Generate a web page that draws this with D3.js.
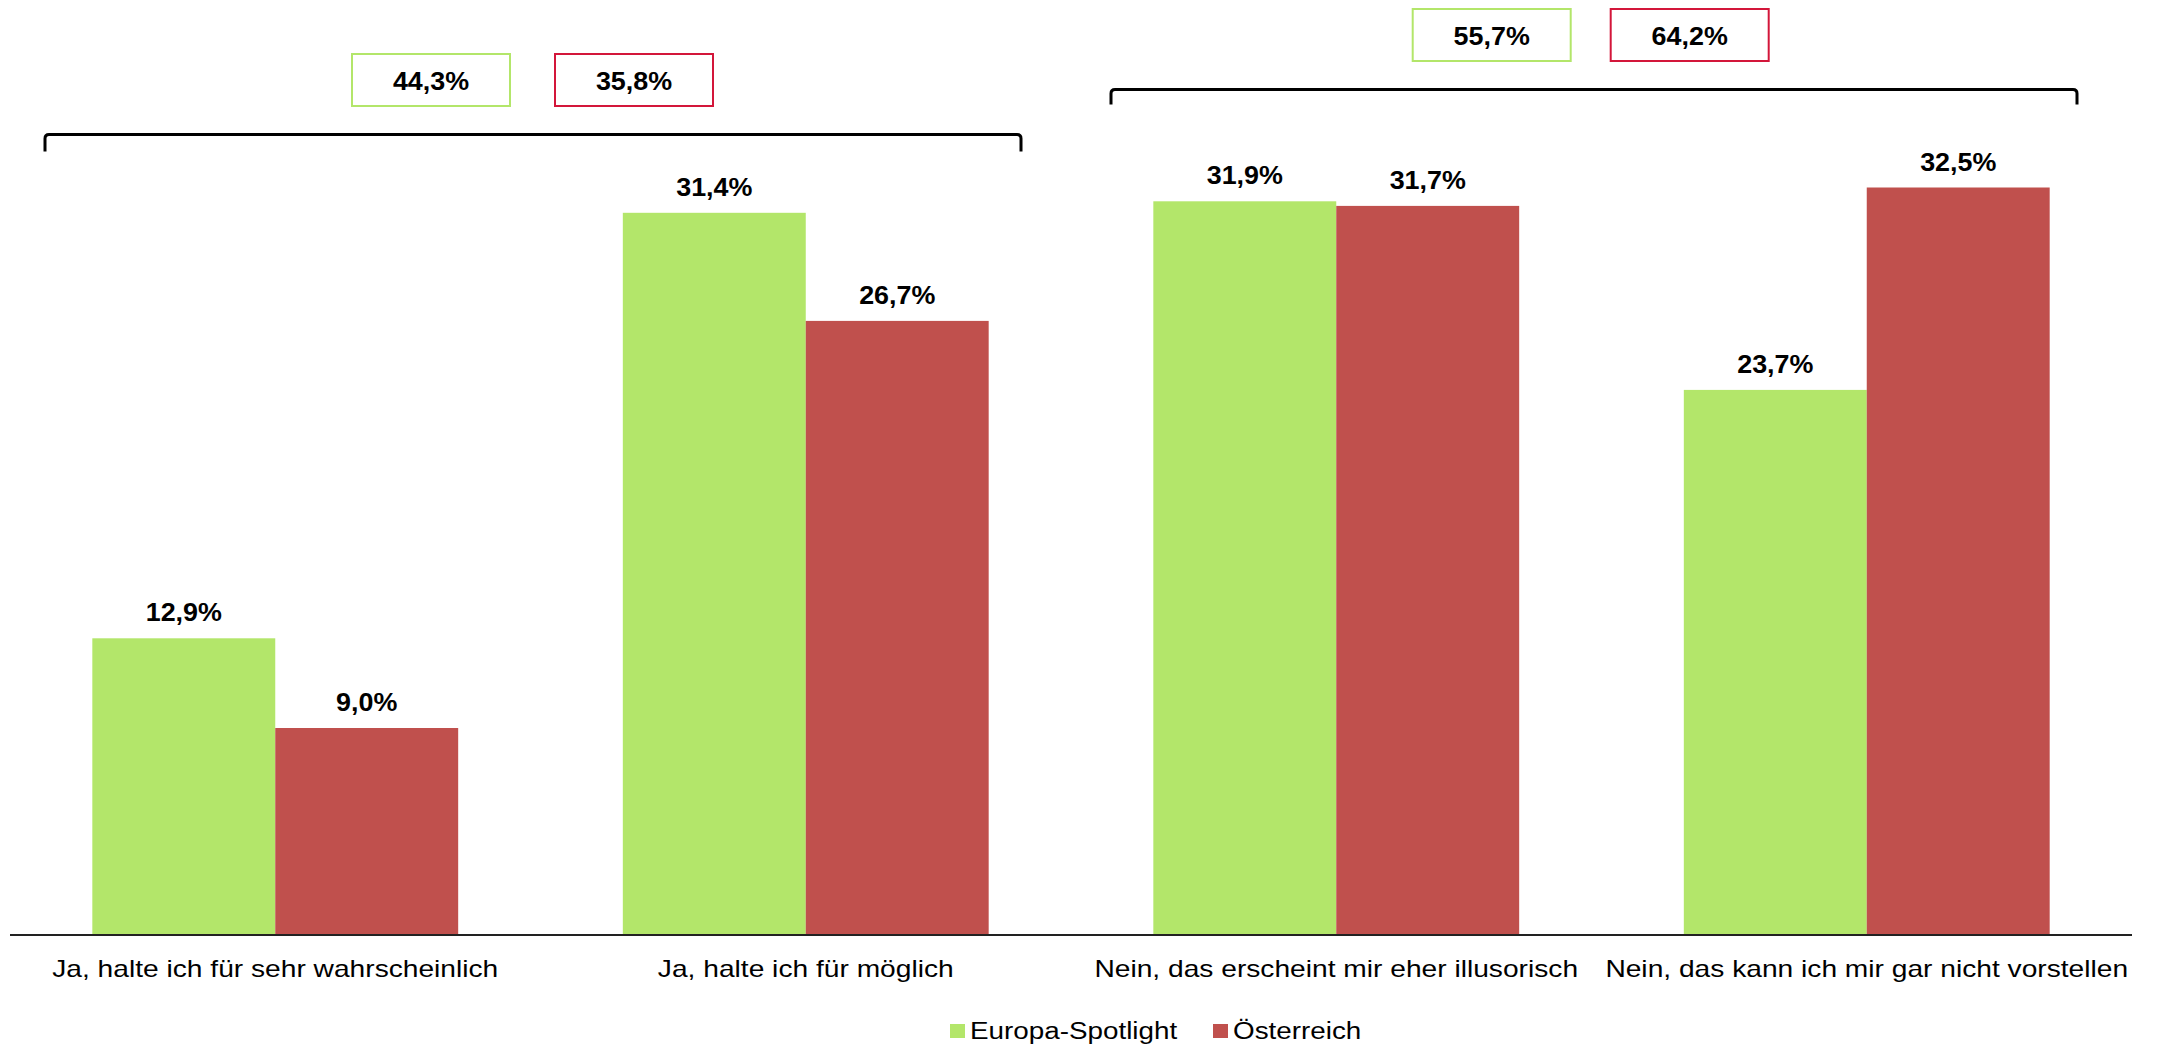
<!DOCTYPE html>
<html>
<head>
<meta charset="utf-8">
<script src="https://cdn.jsdelivr.net/npm/d3@7/dist/d3.min.js"></script>
<style>
  html, body { margin: 0; padding: 0; background: #fff; }
  svg { display: block; }
  text { font-family: "Liberation Sans", Arial, sans-serif; fill: #000; }
</style>
</head>
<body>
<svg id="chart" width="2159" height="1046"></svg>
<script>
// ---- data ----
const categories = [
  "Ja, halte ich für sehr wahrscheinlich",
  "Ja, halte ich für möglich",
  "Nein, das erscheint mir eher illusorisch",
  "Nein, das kann ich mir gar nicht vorstellen"
];
const seriesNames = ["Europa-Spotlight", "Österreich"];
const europaValues = [12.9, 31.4, 31.9, 23.7];
const oesterreichValues = [9.0, 26.7, 31.7, 32.5];
const groupNames = ["Ja", "Nein"];
const groupCategories = [[0, 1], [2, 3]];
const groupEuropa = [44.3, 55.7];
const groupOesterreich = [35.8, 64.2];

const colors = ["#b3e66a", "#c0504d"];
const boxColors = ["#b3e66a", "#d3163a"];

const fmt = v => d3.format(".1f")(v).replace(".", ",") + "%";

// ---- layout ----
const svg = d3.select("#chart");
const baseY = 935;
const pxPerPct = 23.0;
const x0 = d3.scaleBand().domain(categories).range([10, 2132]).padding(0);
const x1 = d3.scaleBand().domain(seriesNames).range([0, x0.bandwidth()]).paddingInner(0).paddingOuter(0.45);
const y = d3.scaleLinear().domain([0, 1]).range([baseY, baseY - pxPerPct]);

const valuesBySeries = [europaValues, oesterreichValues];
const rows = [];
categories.forEach((c, i) => {
  seriesNames.forEach((s, j) => rows.push({ cat: c, series: s, j, value: valuesBySeries[j][i] }));
});

// bars
svg.append("g").selectAll("rect").data(rows).join("rect")
  .attr("x", d => x0(d.cat) + x1(d.series))
  .attr("y", d => y(d.value))
  .attr("width", x1.bandwidth())
  .attr("height", d => baseY - y(d.value))
  .attr("fill", d => colors[d.j]);

// helper for horizontally stretched text
function stretchedText(g, txt, x, yy, size, weight, sx) {
  return g.append("text")
    .attr("transform", `translate(${x},${yy}) scale(${sx},1)`)
    .attr("text-anchor", "middle")
    .style("font-size", size + "px")
    .style("font-weight", weight)
    .text(txt);
}

// value labels
const vl = svg.append("g");
rows.forEach(d => {
  stretchedText(vl, fmt(d.value), x0(d.cat) + x1(d.series) + x1.bandwidth() / 2, y(d.value) - 17, 25.6, "bold", 1.05);
});

// axis
const axis = svg.append("g").attr("transform", `translate(0,${baseY})`)
  .call(d3.axisBottom(x0).tickSize(0).tickFormat(""));
axis.select(".domain").attr("stroke", "#222").attr("stroke-width", 2).attr("d", `M${x0.range()[0]},0H${x0.range()[1]}`);

// category labels
const cl = svg.append("g");
categories.forEach(c => {
  stretchedText(cl, c, x0(c) + x0.bandwidth() / 2, 977, 23, "normal", 1.225);
});

// brackets + boxes
const bracketDefs = [
  { x0: 45, x1: 1021, top: 134.5, drop: 17, boxCenter: 532.5, gap: 45 },
  { x0: 1111, x1: 2077, top: 89.5, drop: 15, boxCenter: 1590.7, gap: 40 }
];
const gb = svg.append("g");
bracketDefs.forEach((b, gi) => {
  const r = 4;
  gb.append("path")
    .attr("d", `M${b.x0},${b.top + b.drop} V${b.top + r} Q${b.x0},${b.top} ${b.x0 + r},${b.top} H${b.x1 - r} Q${b.x1},${b.top} ${b.x1},${b.top + r} V${b.top + b.drop}`)
    .attr("fill", "none").attr("stroke", "#000").attr("stroke-width", 3);
  const cx = b.boxCenter;
  const bw = 158, bh = 52, gap = b.gap;
  const by = b.top - 28.5 - bh;
  const vals = [groupEuropa[gi], groupOesterreich[gi]];
  vals.forEach((v, k) => {
    const bx = k === 0 ? cx - gap / 2 - bw : cx + gap / 2;
    gb.append("rect").attr("x", bx).attr("y", by).attr("width", bw).attr("height", bh)
      .attr("fill", "#fff").attr("stroke", boxColors[k]).attr("stroke-width", 2);
    stretchedText(gb, fmt(v), bx + bw / 2, by + bh / 2 + 9.5, 25.6, "bold", 1.05);
  });
});

// legend
const legendPos = [950, 1213];
const lg = svg.append("g");
seriesNames.forEach((s, j) => {
  lg.append("rect").attr("x", legendPos[j]).attr("y", 1024).attr("width", 15).attr("height", 14).attr("fill", colors[j]);
  lg.append("text")
    .attr("transform", `translate(${legendPos[j] + 20},${1039}) scale(1.21,1)`)
    .style("font-size", "23px")
    .text(s);
});
</script>
</body>
</html>
